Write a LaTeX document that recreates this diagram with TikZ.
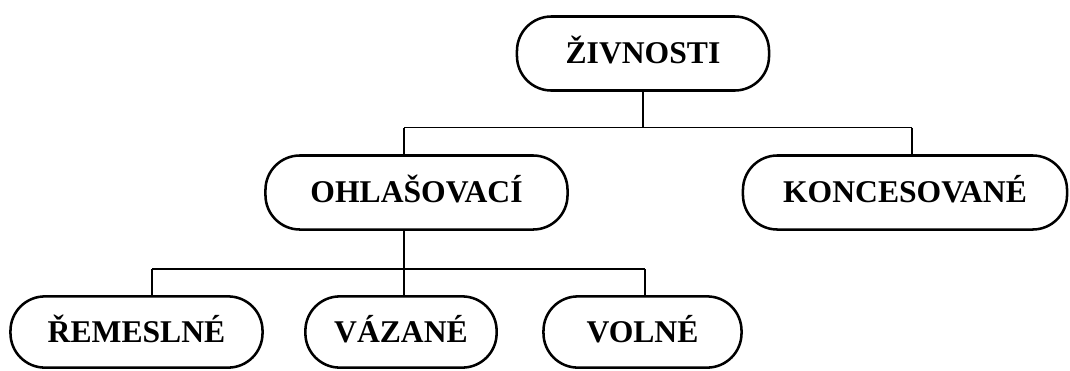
\documentclass[tikz,border=0pt]{standalone}
\usepackage{fontspec}
\setmainfont{Liberation Serif}
\begin{document}
\begin{tikzpicture}[x=0.025cm,y=-0.025cm,
  box/.style={draw, line width=1.8pt, rounded corners=0.86cm, inner sep=0pt,
    font=\fontsize{22.5}{27}\selectfont\bfseries, text height=14.5pt, text depth=0pt},
  conn/.style={line width=1.4pt}]
\useasboundingbox[fill=white] (0,0) rectangle (1070,370);
\node[box, minimum width=6.3cm, minimum height=1.85cm] (ziv) at (643,53.5) {ŽIVNOSTI};
\node[box, minimum width=7.55cm, minimum height=1.85cm] (ohl) at (416.5,192.5) {OHLAŠOVACÍ};
\node[box, minimum width=8.1cm, minimum height=1.85cm] (kon) at (905,192.5) {KONCESOVANÉ};
\node[box, minimum width=6.3cm, minimum height=1.78cm] (rem) at (136.5,332) {ŘEMESLNÉ};
\node[box, minimum width=4.78cm, minimum height=1.78cm] (vaz) at (401,332) {VÁZANÉ};
\node[box, minimum width=4.95cm, minimum height=1.78cm] (vol) at (642.5,332) {VOLNÉ};
\coordinate (a1) at (404,127.5);
\coordinate (a2) at (912,127.5);
\coordinate (b1) at (152,269);
\coordinate (b0) at (404,269);
\coordinate (b2) at (645,269);
\draw[conn] (ziv.south) -- (ziv.south |- a1);
\draw[conn] (a1) -- (a2);
\draw[conn] (a1) -- (a1 |- ohl.north);
\draw[conn] (a2) -- (a2 |- kon.north);
\draw[conn] (b0 |- ohl.south) -- (b0);
\draw[conn] (b1) -- (b2);
\draw[conn] (b1) -- (b1 |- rem.north);
\draw[conn] (b0) -- (b0 |- vaz.north);
\draw[conn] (b2) -- (b2 |- vol.north);
\end{tikzpicture}
\end{document}
